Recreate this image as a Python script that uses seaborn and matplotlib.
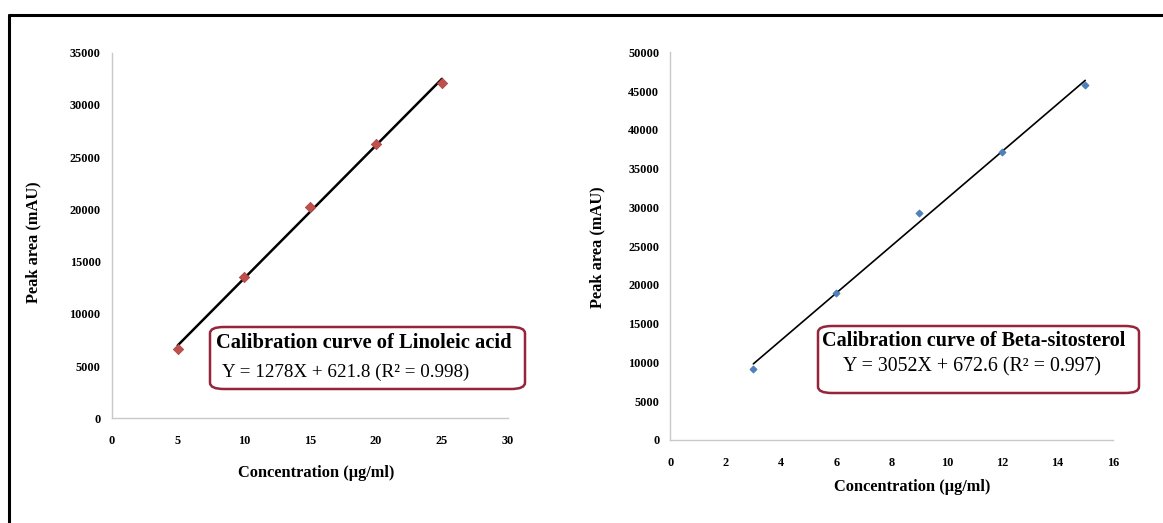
import matplotlib
matplotlib.use("Agg")
import matplotlib.pyplot as plt
import seaborn as sns
import pandas as pd
from matplotlib.patches import FancyBboxPatch
from matplotlib.lines import Line2D

# ---- data ----
lin_conc = [5, 10, 15, 20, 25]
lin_area = [6600, 13500, 20200, 26300, 32100]
bs_conc = [3, 6, 9, 12, 15]
bs_area = [9200, 19000, 29300, 37200, 45800]

lin_xticks = [0, 5, 10, 15, 20, 25, 30]
lin_yticks = [0, 5000, 10000, 15000, 20000, 25000, 30000, 35000]
bs_xticks = [0, 2, 4, 6, 8, 10, 12, 14, 16]
bs_yticks = [0, 5000, 10000, 15000, 20000, 25000, 30000, 35000, 40000, 45000, 50000]

lin_title = "Calibration curve of Linoleic acid"
lin_eq = "Y = 1278X + 621.8 (R\u00b2 = 0.998)"
bs_title = "Calibration curve of Beta-sitosterol"
bs_eq = "Y = 3052X + 672.6 (R\u00b2 = 0.997)"
xlabel = "Concentration (\u00b5g/ml)"
ylabel = "Peak area (mAU)"

sns.set_theme(style="white")
plt.rcParams['font.family'] = ['Liberation Serif', 'DejaVu Serif']
plt.rcParams['text.color'] = 'black'
plt.rcParams['axes.labelcolor'] = 'black'
plt.rcParams['xtick.color'] = 'black'
plt.rcParams['ytick.color'] = 'black'

W, H = 1163, 523
fig = plt.figure(figsize=(W / 100, H / 100), dpi=100)


def px(x0, y0, x1, y1):
    return [x0 / W, 1 - y1 / H, (x1 - x0) / W, (y1 - y0) / H]


ax1 = fig.add_axes(px(111.7, 52.7, 508, 418.3))
ax2 = fig.add_axes(px(670.4, 52.3, 1112.9, 440))

df1 = pd.DataFrame({"conc": lin_conc, "area": lin_area})
df2 = pd.DataFrame({"conc": bs_conc, "area": bs_area})

sns.regplot(data=df1, x="conc", y="area", ax=ax1, scatter=False, ci=None,
            line_kws=dict(color="black", lw=1.8))
sns.scatterplot(data=df1, x="conc", y="area", ax=ax1, marker="D", s=28,
                color="#C0504D", edgecolor="#A8403D", linewidth=0.5, zorder=3)

sns.regplot(data=df2, x="conc", y="area", ax=ax2, scatter=False, ci=None,
            line_kws=dict(color="black", lw=1.2))
sns.scatterplot(data=df2, x="conc", y="area", ax=ax2, marker="D", s=14,
                color="#4F81BD", edgecolor="#3F71AD", linewidth=0.4, zorder=3)

for ax, xt, yt in [(ax1, lin_xticks, lin_yticks), (ax2, bs_xticks, bs_yticks)]:
    ax.set_xlim(xt[0], xt[-1])
    ax.set_ylim(yt[0], yt[-1])
    ax.set_xticks(xt)
    ax.set_yticks(yt)
    ax.set_xticklabels([str(v) for v in xt], fontweight="bold", fontsize=8.8, color="black")
    ax.set_yticklabels([str(v) for v in yt], fontweight="bold", fontsize=8.8, color="black")
    sns.despine(ax=ax)
    for s in ["left", "bottom"]:
        ax.spines[s].set_color("#C8C8C8")
        ax.spines[s].set_linewidth(1.0)
    ax.tick_params(axis="both", direction="out", length=3, width=0.8,
                   color="#C8C8C8", labelcolor="black")
    ax.tick_params(axis="y", pad=5)
    ax.tick_params(axis="x", pad=9)
    ax.set_xlabel("")
    ax.set_ylabel("")
    ax.grid(False)

# axis labels (figure pixel coords)
def ftext(x, y, s, **kw):
    fig.text(x / W, 1 - y / H, s, color="black", **kw)

ftext(33, 242, ylabel, rotation=90, ha="center", va="center", fontsize=11.8, fontweight="bold")
ftext(597, 247, ylabel, rotation=90, ha="center", va="center", fontsize=11.8, fontweight="bold")
ftext(316, 473, xlabel, ha="center", va="center", fontsize=11.8, fontweight="bold")
ftext(912, 487, xlabel, ha="center", va="center", fontsize=11.8, fontweight="bold")

# annotation boxes
boxcol = "#95253A"
def box(x0, y0, x1, y1):
    p = FancyBboxPatch((x0 / W, 1 - y1 / H), (x1 - x0) / W, (y1 - y0) / H,
                       boxstyle="round,pad=0,rounding_size=0.012",
                       transform=fig.transFigure, fill=True, facecolor="white",
                       edgecolor=boxcol, linewidth=1.8, zorder=5)
    fig.patches.append(p)

box(210, 327, 525, 389)
ftext(216, 343, lin_title, ha="left", va="center", fontsize=14.8, fontweight="bold", zorder=6)
ftext(222, 372, lin_eq, ha="left", va="center", fontsize=13.7, zorder=6)

box(818, 326, 1139, 393)
ftext(974, 341, bs_title, ha="center", va="center", fontsize=14.5, fontweight="bold", zorder=6)
ftext(972, 367, bs_eq, ha="center", va="center", fontsize=14.3, zorder=6)

# outer frame
fig.lines.append(Line2D([9 / W, 9 / W], [0, 1 - 15 / H], transform=fig.transFigure,
                        color="black", lw=2.2))
fig.lines.append(Line2D([9 / W, 1], [1 - 15 / H, 1 - 15 / H], transform=fig.transFigure,
                        color="black", lw=2.2))

fig.savefig("out.png", dpi=100, facecolor="white")
